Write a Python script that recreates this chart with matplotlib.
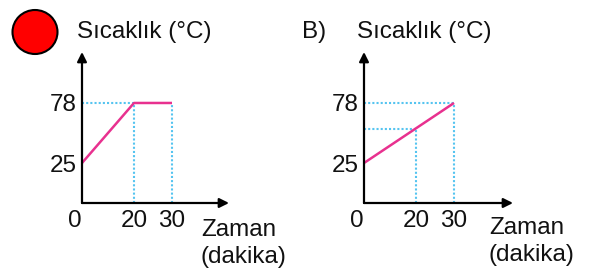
import numpy as np
import matplotlib.pyplot as plt
from matplotlib.patches import Ellipse

plt.rcParams['font.family'] = ['Liberation Sans', 'DejaVu Sans']

# ── Data ──────────────────────────────────────────────────────────────────────
time_a = [0, 20, 30]
temp_a = [25, 78, 78]

time_b = [0, 30]
temp_b = [25, 78]
temp_b_at20 = 55          # at t = 20

x_ticks = [0, 20, 30]
y_ticks = [25, 78]
y_label = "Sıcaklık (°C)"
x_label = ["Zaman", "(dakika)"]

W, H = 595, 275
pink = "#e8318f"
cyan = "#55c4f0"
dot = dict(ls=(0, (1, 1)), color=cyan, lw=1.5)


# schematic time axis: 0-20 drawn narrower than 20-30
def fwd(x):
    x = np.asarray(x, dtype=float)
    return np.where(x <= 20, 2.6 * x, 52 + 3.8 * (x - 20))


def inv(p):
    p = np.asarray(p, dtype=float)
    return np.where(p <= 52, p / 2.6, 20 + (p - 52) / 3.8)


fig = plt.figure(figsize=(W / 100, H / 100), dpi=100)
fs = 17.5


def make_axes(left_px, width_px):
    ax = fig.add_axes([left_px / W, (H - 203) / H, width_px / W, 151 / H])
    ax.set_xscale('function', functions=(fwd, inv))
    ax.set_xlim(0, float(inv(width_px)))
    ax.set_ylim(-10.3, 123)
    for s in ax.spines.values():
        s.set_visible(False)
    ax.patch.set_alpha(0)
    ax.set_xticks(x_ticks)
    ax.set_xticklabels([str(t) for t in x_ticks])
    ax.set_yticks(y_ticks)
    ax.set_yticklabels([str(t) for t in y_ticks])
    ax.tick_params(length=0, labelsize=fs, colors='#111111')
    ax.tick_params(axis='x', pad=5)
    ax.tick_params(axis='y', pad=4)
    ax.xaxis.get_ticklabels()[0].set_horizontalalignment('right')
    for xy in [(1, 0), (0, 1)]:
        ax.annotate("", xy=xy, xytext=(0, 0), xycoords='axes fraction',
                    arrowprops=dict(arrowstyle='-|>', color='black', lw=1.6,
                                    mutation_scale=14, shrinkA=0, shrinkB=0))
    ax.minorticks_off()
    return ax


ax1 = make_axes(82, 147)
ax1.plot([0, time_a[1]], [temp_a[1]] * 2, **dot)
for t in time_a[1:]:
    ax1.plot([t, t], [-10.3, temp_a[1]], **dot)
ax1.plot(time_a, temp_a, color=pink, lw=1.8, solid_capstyle='butt')

ax2 = make_axes(364, 149)
ax2.plot([0, time_b[1]], [temp_b[1]] * 2, **dot)
ax2.plot([time_b[1]] * 2, [-10.3, temp_b[1]], **dot)
ax2.plot([0, 20], [temp_b_at20] * 2, **dot)
ax2.plot([20, 20], [-10.3, temp_b_at20], **dot)
ax2.plot(time_b, temp_b, color=pink, lw=1.8, solid_capstyle='butt')

# ── Labels ────────────────────────────────────────────────────────────────────
fig.text(77 / W, 1 - 32 / H, y_label, fontsize=fs, va='center', color='#111111')
fig.text(357 / W, 1 - 32 / H, y_label, fontsize=fs, va='center', color='#111111')
fig.text(302 / W, 1 - 32 / H, "B)", fontsize=fs, va='center', color='#111111')
fig.text(201 / W, 1 - 230 / H, x_label[0], fontsize=fs, va='center', color='#111111')
fig.text(201 / W, 1 - 257 / H, x_label[1], fontsize=fs, va='center', color='#111111')
fig.text(489 / W, 1 - 228 / H, x_label[0], fontsize=fs, va='center', color='#111111')
fig.text(489 / W, 1 - 255 / H, x_label[1], fontsize=fs, va='center', color='#111111')

# red marker circle
fig.patches.append(Ellipse((35 / W, 1 - 32 / H), 45 / W, 44 / H,
                           transform=fig.transFigure, facecolor='#ff0000',
                           edgecolor='black', lw=1.5))

fig.savefig("out.png", dpi=100)
